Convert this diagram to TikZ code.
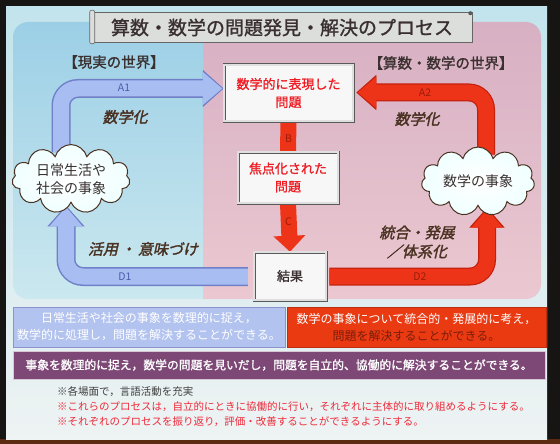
\documentclass[tikz,border=0pt]{standalone}
\usepackage{fontspec}
\setmainfont{Noto Sans CJK JP}
\newfontfamily\jpbold[FakeBold=1.2]{Noto Sans CJK JP}
\newfontfamily\jpslant[FakeBold=2,FakeSlant=0.22]{Noto Sans CJK JP}
\usepackage{tikz}
\usetikzlibrary{arrows.meta,positioning,shapes.symbols,calc}

\definecolor{framedark}{HTML}{171514}
\definecolor{framebrown}{HTML}{5B2A10}
\definecolor{slidetop}{HTML}{C2E4EC}
\definecolor{slidebot}{HTML}{EEF3F3}
\definecolor{bluetop}{HTML}{9CCFE6}
\definecolor{bluebot}{HTML}{CBE8EF}
\definecolor{pinktop}{HTML}{D7B0C3}
\definecolor{pinkbot}{HTML}{EBC8D1}
\definecolor{arrowblue}{HTML}{A8BEF2}
\definecolor{arrowblueedge}{HTML}{7080C8}
\definecolor{arrowred}{HTML}{EE3418}
\definecolor{arrowrededge}{HTML}{C4200C}
\definecolor{probred}{HTML}{EE1C24}
\definecolor{textdark}{HTML}{3A3030}
\definecolor{labelbrown}{HTML}{4A3222}
\definecolor{bottomblue}{HTML}{B3C3EF}
\definecolor{bottombluedge}{HTML}{8C92CC}
\definecolor{bottomred}{HTML}{EA3A12}
\definecolor{redtextdark}{HTML}{7A1E0C}
\definecolor{redtag}{HTML}{9C1C0A}
\definecolor{bluetag}{HTML}{4E5CA8}
\definecolor{purplebox}{HTML}{7D4876}
\definecolor{notegray}{HTML}{404040}
\definecolor{notered}{HTML}{EE2A3A}
\definecolor{titlegray}{HTML}{DCDEDC}

\pgfdeclarelayer{panel}
\pgfdeclarelayer{arrowlayer}
\pgfsetlayers{panel,arrowlayer,main}

\begin{document}
\begin{tikzpicture}[x=1pt,y=-1pt,
  probbox/.style={draw=gray!70!black,line width=0.5pt,double=gray!25,double distance=2pt,
    fill=white!94!gray,align=center,inner sep=0pt,text=probred,
    font=\jpbold\fontsize{13}{18}\selectfont},
  worldcloud/.style={cloud,cloud puffs=11,aspect=2,draw=labelbrown,line width=1pt,
    inner color=white,outer color=cyan!6,align=center,inner sep=0pt,text=textdark,
    font=\fontsize{14}{18}\selectfont},
  blueedge/.style={draw=arrowblueedge,line width=19pt,rounded corners=17pt,
    -{Triangle[width=36pt,length=21pt]}},
  bluebody/.style={draw=arrowblue,line width=16pt,rounded corners=17pt,shorten >=1.5pt,
    -{Triangle[width=32pt,length=19.5pt]}},
  rededge/.style={draw=arrowrededge,line width=18pt,rounded corners=17pt,
    -{Triangle[width=34pt,length=20pt]}},
  redbody/.style={draw=arrowred,line width=15.5pt,rounded corners=17pt,shorten >=1.5pt,
    -{Triangle[width=30pt,length=18.5pt]}},
  arrowtag/.style={font=\fontsize{10.5}{12}\selectfont},
  actlabel/.style={text=labelbrown,align=center,font=\jpslant\fontsize{15}{19}\selectfont},
  worldtitle/.style={text=textdark,font=\jpbold\fontsize{14.5}{17}\selectfont},
  goalbox/.style={align=center,inner sep=0pt,font=\fontsize{12}{17}\selectfont}]

  \useasboundingbox (0,0) rectangle (560,444);
  \begin{pgfonlayer}{panel}
    % frame and slide
    \fill[framedark] (0,0) rectangle (560,444);
    \fill[framebrown] (0,439) rectangle (560,444);
    \shade[top color=slidetop,bottom color=slidebot] (6,7) rectangle (547,439);
    % the two worlds
    \begin{scope}
      \clip[rounded corners=15pt] (13,22) rectangle (541,299);
      \shade[top color=bluetop,bottom color=bluebot] (13,22) rectangle (203,299);
      \shade[top color=pinktop,bottom color=pinkbot] (203,22) rectangle (541,299);
    \end{scope}
  \end{pgfonlayer}

  % title scroll
  \node[fill=titlegray,draw=gray!80!black,line width=0.6pt,minimum width=380pt,minimum height=30pt,
    text=textdark,font=\jpbold\fontsize{19}{22}\selectfont] (title) at (282,27.5)
    {算数・数学の問題発見・解決のプロセス};
  \draw[fill=titlegray,draw=gray!80!black,line width=0.6pt,rounded corners=2pt]
    ([xshift=-2pt,yshift=2pt]title.north west) rectangle ([xshift=3pt,yshift=-1pt]title.south west);
  \fill[gray!70!black] ([xshift=-2pt,yshift=-1pt]title.north east) circle (2pt);

  \node[worldtitle] (realw) at (114,62) {【現実の世界】};
  \node[worldtitle] (mathw) at (441,63) {【算数・数学の世界】};

  % process
  \node[probbox,minimum width=129pt,minimum height=56pt] (prob) at (288.5,93) {数学的に表現した\\問題};
  \node[probbox,minimum width=100pt,minimum height=51pt] (focus) at (288,177.5) {焦点化された\\問題};
  \node[probbox,minimum width=72pt,minimum height=48pt,text=textdark] (result) at (290,276) {結果};
  \node[worldcloud,minimum width=118pt,minimum height=68pt] (daily) at (71,179) {日常生活や\\社会の事象};
  \node[worldcloud,minimum width=113pt,minimum height=53pt] (mathev) at (478,181.5) {数学の事象};

  \begin{pgfonlayer}{arrowlayer}
    \draw[blueedge] ([xshift=-10pt,yshift=-8pt]daily.north) |- ([yshift=4.5pt]prob.west);
    \draw[bluebody] ([xshift=-10pt,yshift=-8pt]daily.north) |- ([yshift=4.5pt]prob.west);
    \draw[blueedge] ([xshift=-6pt,yshift=-0.5pt]result.west) -| ([xshift=-5pt,yshift=-2pt]daily.south);
    \draw[bluebody] ([xshift=-6pt,yshift=-0.5pt]result.west) -| ([xshift=-5pt,yshift=-2pt]daily.south);
    \draw[rededge] ([xshift=8pt,yshift=-8pt]mathev.north) |- ([xshift=3pt,yshift=0.5pt]prob.east);
    \draw[redbody] ([xshift=8pt,yshift=-8pt]mathev.north) |- ([xshift=3pt,yshift=0.5pt]prob.east);
    \draw[rededge] ([xshift=3pt,yshift=-0.5pt]result.east) -| ([xshift=9pt,yshift=-1pt]mathev.south);
    \draw[redbody] ([xshift=3pt,yshift=-0.5pt]result.east) -| ([xshift=9pt,yshift=-1pt]mathev.south);
    \draw[draw=arrowred,line width=16pt] (prob.south) -- (focus.north);
    \draw[draw=arrowred,line width=16pt,-{Triangle[width=31pt,length=16pt]}] (focus.south) -- (result.north);
  \end{pgfonlayer}

  % arrow tags
  \node[arrowtag,text=bluetag] (tagA1) at (124,88) {A1};
  \node[arrowtag,text=bluetag] (tagD1) at (125,276.5) {D1};
  \node[arrowtag,text=redtag] (tagA2) at (425,92.5) {A2};
  \node[arrowtag,text=redtag] (tagD2) at (420,276.5) {D2};
  \node[arrowtag,text=redtag] (tagB) at (288.5,139) {B};
  \node[arrowtag,text=redtag] (tagC) at (288.5,222) {C};

  % activity labels
  \node[actlabel] (mathzL) at (125,117) {数学化};
  \node[actlabel] (apply) at (143,249) {活用\,・\,意味づけ};
  \node[actlabel] (mathzR) at (417,119) {数学化};
  \node[actlabel] (integ) at (417,242) {統合・発展\\／体系化};

  % goals
  \node[goalbox,fill=bottomblue,draw=bottombluedge,minimum width=272pt,minimum height=40pt,text=white]
    (goalL) at (149,327) {日常生活や社会の事象を数理的に捉え，\\数学的に処理し，問題を解決することができる。};
  \node[goalbox,fill=bottomred,draw=bottomred!80!black,minimum width=259pt,minimum height=40pt]
    (goalR) at (416.5,327) {\textcolor{white}{数学の事象について統合的・発展的に考え，}\\\textcolor{redtextdark}{問題を解決することができる。}};
  \node[goalbox,fill=purplebox,draw=white!70!purplebox,minimum width=532pt,minimum height=28pt,text=white,
    font=\jpbold\fontsize{11.8}{14}\selectfont]
    (goalA) at (279,365) {事象を数理的に捉え，数学の問題を見いだし，問題を自立的、協働的に解決することができる。};

  % notes
  \node[anchor=north west,align=left,inner sep=0pt,font=\fontsize{10.5}{15}\selectfont] (notes) at (57,386)
    {\textcolor{notegray}{※各場面で，言語活動を充実}\\
     \textcolor{notered}{※これらのプロセスは，自立的にときに協働的に行い，それぞれに主体的に取り組めるようにする。}\\
     \textcolor{notered}{※それぞれのプロセスを振り返り，評価・改善することができるようにする。}};
\end{tikzpicture}
\end{document}
